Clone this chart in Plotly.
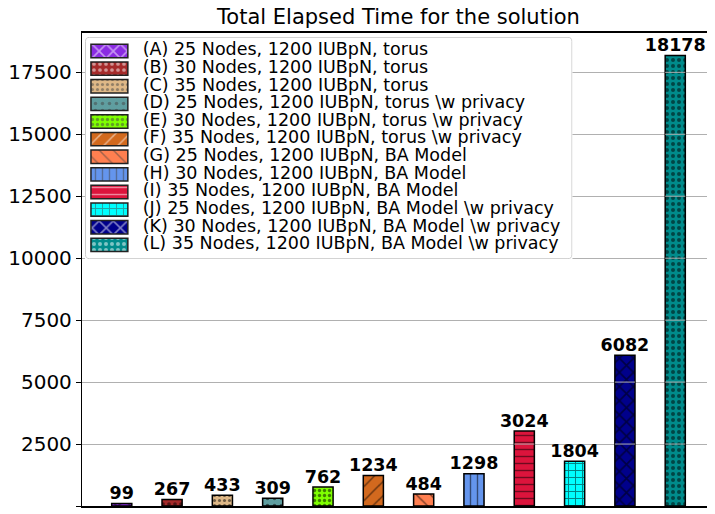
import plotly.graph_objects as go

# Data -------------------------------------------------------------------------
labels = [
    "(A) 25 Nodes, 1200 IUBpN, torus",
    "(B) 30 Nodes, 1200 IUBpN, torus",
    "(C) 35 Nodes, 1200 IUBpN, torus",
    "(D) 25 Nodes, 1200 IUBpN, torus \\w privacy",
    "(E) 30 Nodes, 1200 IUBpN, torus \\w privacy",
    "(F) 35 Nodes, 1200 IUBpN, torus \\w privacy",
    "(G) 25 Nodes, 1200 IUBpN, BA Model",
    "(H) 30 Nodes, 1200 IUBpN, BA Model",
    "(I) 35 Nodes, 1200 IUBpN, BA Model",
    "(J) 25 Nodes, 1200 IUBpN, BA Model \\w privacy",
    "(K) 30 Nodes, 1200 IUBpN, BA Model \\w privacy",
    "(L) 35 Nodes, 1200 IUBpN, BA Model \\w privacy",
]
elapsed = [99, 267, 433, 309, 762, 1234, 484, 1298, 3024, 1804, 6082, 18178]
positions = list(range(12))
y_ticks = [0, 2500, 5000, 7500, 10000, 12500, 15000, 17500]

# Styles -----------------------------------------------------------------------
colours = ["blueviolet", "brown", "burlywood", "cadetblue", "chartreuse", "chocolate",
           "coral", "cornflowerblue", "crimson", "cyan", "darkblue", "darkcyan"]
hatches = ["x", ".", ".", ".", ".", "/", "\\", "|", "-", "+", "x", "."]
hatch_size = [10, 6, 5, 7, 5, 10, 10, 7, 7, 7, 10, 6]
hatch_solid = [0.3, 0.3, 0.3, 0.2, 0.35, 0.15, 0.15, 0.2, 0.2, 0.25, 0.3, 0.35]
bar_width = 0.4

fig = go.Figure()

# Main bars --------------------------------------------------------------------
for i, (lab, val, pos) in enumerate(zip(labels, elapsed, positions)):
    fig.add_trace(go.Bar(
        x=[pos], y=[val], name=lab, width=bar_width, showlegend=False,
        marker=dict(color=colours[i], line=dict(color="black", width=1.5),
                    pattern=dict(shape=hatches[i], fgcolor="black",
                                 size=hatch_size[i], solidity=hatch_solid[i]))))

    # grid runs over the bars in the reference
    for t in y_ticks:
        if 0 < t < val:
            fig.add_shape(type="line", x0=pos - bar_width / 2, x1=pos + bar_width / 2,
                          y0=t, y1=t, xref="x", yref="y", layer="above",
                          line=dict(color="#b0b0b0", width=1))

# Value labels above bars
fig.add_trace(go.Scatter(
    x=positions, y=elapsed, mode="text", text=[str(v) for v in elapsed],
    textposition="top center", showlegend=False, cliponaxis=False,
    textfont=dict(size=17.5, color="black", weight="bold")))

# Legend drawn on an inset axis (matplotlib-like wide swatches) -----------------
rows = list(range(len(labels)))
fig.add_trace(go.Bar(
    y=rows, x=[37] * len(rows), base=6, orientation="h", width=0.76,
    xaxis="x2", yaxis="y2", showlegend=False, hoverinfo="skip",
    marker=dict(color=colours, line=dict(color="#222222", width=1.5),
                pattern=dict(shape=hatches, fgcolor="black", size=hatch_size,
                             solidity=hatch_solid))))
fig.add_trace(go.Scatter(
    y=rows, x=[58] * len(rows), mode="text", text=labels, textposition="middle right",
    xaxis="x2", yaxis="y2", showlegend=False, cliponaxis=False, hoverinfo="skip",
    textfont=dict(size=17.5, color="black")))

# Rounded legend frame
x0, x1, y0, y1, rx, ry = 0.5, 488.5, -0.77, 11.78, 4, 0.23
frame = (f"M {x0+rx},{y0} L {x1-rx},{y0} Q {x1},{y0} {x1},{y0+ry} "
         f"L {x1},{y1-ry} Q {x1},{y1} {x1-rx},{y1} L {x0+rx},{y1} "
         f"Q {x0},{y1} {x0},{y1-ry} L {x0},{y0+ry} Q {x0},{y0} {x0+rx},{y0} Z")
fig.add_shape(type="path", path=frame, xref="x2", yref="y2", layer="below",
              fillcolor="rgba(255,255,255,0.8)", line=dict(color="#cccccc", width=1))

# Layout -----------------------------------------------------------------------
# (page body has an 8px margin, so the figure is sized to land on 715x514)
fig.update_layout(
    width=707, height=506,
    barmode="overlay",
    font=dict(family="DejaVu Sans", size=17, color="black"),
    plot_bgcolor="white", paper_bgcolor="white",
    margin=dict(l=72, r=0, t=25, b=8),
    title=dict(text="Total Elapsed Time for the solution", x=0.5, xref="paper",
               xanchor="center", y=0.982, yanchor="middle", font=dict(size=21)),
    showlegend=False,
    xaxis=dict(range=[-0.79, 11.79], showticklabels=False, ticks="", showgrid=False,
               showline=True, mirror=True, linecolor="black", linewidth=1.5,
               zeroline=False),
    yaxis=dict(range=[0, 19087], tickvals=y_ticks, tickformat="d", ticks="outside",
               ticklen=5, tickcolor="black", showgrid=True, gridcolor="#b0b0b0",
               gridwidth=1, showline=True, linecolor="black", linewidth=1.3,
               zeroline=False, tickfont=dict(size=20)),
    xaxis2=dict(domain=[0.0047, 0.7748], range=[0, 489], anchor="y2", visible=False,
                fixedrange=True),
    yaxis2=dict(domain=[0.5222, 0.9915], range=[11.80, -0.79], anchor="x2", visible=False,
                fixedrange=True),
)

fig.write_html("out.html")
